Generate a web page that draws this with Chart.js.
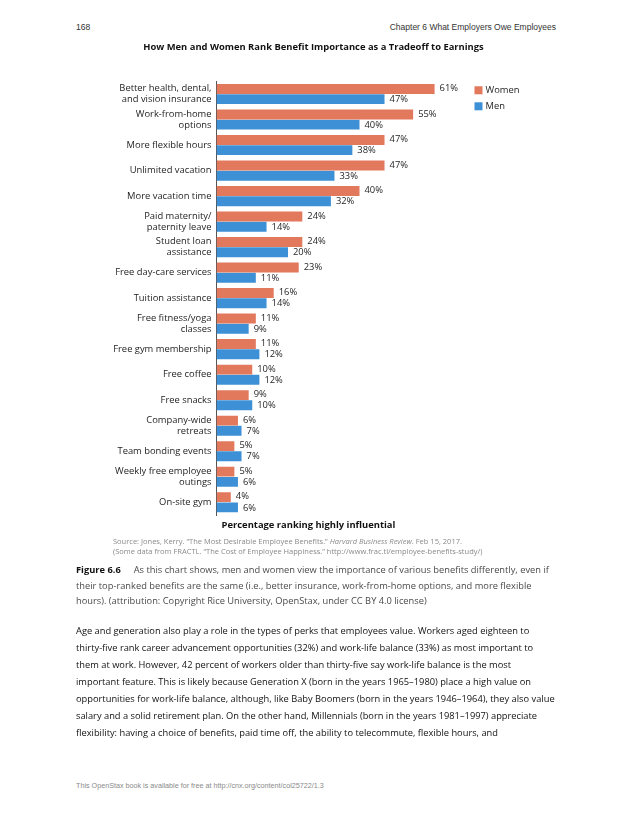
<!DOCTYPE html>
<html>
<head>
<meta charset="utf-8">
<script src="https://cdn.jsdelivr.net/npm/chart.js@4.4.1/dist/chart.umd.min.js"></script>
<style>
  html,body{margin:0;padding:0;background:#fff;}
  body{width:630px;height:815px;position:relative;overflow:hidden;font-family:"Open Sans",sans-serif;}
  .ln{position:absolute;white-space:nowrap;line-height:16px;}
  .hdr{font-family:"Liberation Sans",Arial,sans-serif;font-size:8.5px;color:#333;}
  .src{font-size:7.5px;color:#8a8a8a;left:113px;}
  .cap{font-size:9.3px;color:#4a4a4a;left:76px;}
  .body{font-size:9.3px;color:#111;left:76px;}
  .foot{font-family:"Liberation Sans",Arial,sans-serif;font-size:7.2px;color:#8a8a8a;left:76px;}
  #wrap{position:absolute;left:52.5px;top:31px;width:545px;height:504px;}
</style>
</head>
<body>
<div class="ln hdr" style="left:76px;top:19px;">168</div>
<div class="ln hdr" style="right:74px;top:19px;">Chapter 6 What Employers Owe Employees</div>

<div id="wrap"><canvas id="c"></canvas></div>

<div class="ln src" style="top:533px;">Source: Jones, Kerry. “The Most Desirable Employee Benefits.” <i>Harvard Business Review</i>. Feb 15, 2017.</div>
<div class="ln src" style="top:543px;">(Some data from FRACTL. “The Cost of Employee Happiness.” http://www.frac.tl/employee-benefits-study/)</div>

<div class="ln cap" style="top:562px;"><b style="color:#111;">Figure 6.6</b><span style="display:inline-block;width:13px;"></span>As this chart shows, men and women view the importance of various benefits differently, even if</div>
<div class="ln cap" style="top:578px;">their top-ranked benefits are the same (i.e., better insurance, work-from-home options, and more flexible</div>
<div class="ln cap" style="top:593px;">hours). (attribution: Copyright Rice University, OpenStax, under CC BY 4.0 license)</div>

<div class="ln body" style="top:623px;">Age and generation also play a role in the types of perks that employees value. Workers aged eighteen to</div>
<div class="ln body" style="top:640px;">thirty-five rank career advancement opportunities (32%) and work-life balance (33%) as most important to</div>
<div class="ln body" style="top:657px;">them at work. However, 42 percent of workers older than thirty-five say work-life balance is the most</div>
<div class="ln body" style="top:674px;">important feature. This is likely because Generation X (born in the years 1965–1980) place a high value on</div>
<div class="ln body" style="top:691px;">opportunities for work-life balance, although, like Baby Boomers (born in the years 1946–1964), they also value</div>
<div class="ln body" style="top:708px;">salary and a solid retirement plan. On the other hand, Millennials (born in the years 1981–1997) appreciate</div>
<div class="ln body" style="top:725px;">flexibility: having a choice of benefits, paid time off, the ability to telecommute, flexible hours, and</div>

<div class="ln foot" style="top:778px;">This OpenStax book is available for free at http://cnx.org/content/col25722/1.3</div>

<script>
const categories = [
  ["Better health, dental,", "and vision insurance"],
  ["Work-from-home", "options"],
  "More flexible hours",
  "Unlimited vacation",
  "More vacation time",
  ["Paid maternity/", "paternity leave"],
  ["Student loan", "assistance"],
  "Free day-care services",
  "Tuition assistance",
  ["Free fitness/yoga", "classes"],
  "Free gym membership",
  "Free coffee",
  "Free snacks",
  ["Company-wide", "retreats"],
  "Team bonding events",
  ["Weekly free employee", "outings"],
  "On-site gym"
];
const womenValues = [61, 55, 47, 47, 40, 24, 24, 23, 16, 11, 11, 10, 9, 6, 5, 5, 4];
const menValues   = [47, 40, 38, 33, 32, 14, 20, 11, 14, 9, 12, 12, 10, 7, 7, 6, 6];
const seriesNames = ["Women", "Men"];
const chartTitle = "How Men and Women Rank Benefit Importance as a Tradeoff to Earnings";
const axisTitle = "Percentage ranking highly influential";

const WOMEN_COLOR = "#E2785C";
const MEN_COLOR = "#3E90D6";
const FS = 9.4;

Chart.defaults.font.family = '"Open Sans", sans-serif';
Chart.defaults.color = "#1e1e1e";

const valueLabels = {
  id: "valueLabels",
  afterDatasetsDraw(chart) {
    const ctx = chart.ctx;
    ctx.save();
    ctx.font = FS + 'px "Open Sans", sans-serif';
    ctx.fillStyle = "#262626";
    ctx.textAlign = "left";
    ctx.textBaseline = "middle";
    chart.data.datasets.forEach((ds, di) => {
      const meta = chart.getDatasetMeta(di);
      meta.data.forEach((bar, i) => {
        ctx.fillText(ds.data[i] + "%", bar.x + 5, bar.y + (di === 0 ? -0.5 : 0.5));
      });
    });
    ctx.restore();
  }
};

const sideLegend = {
  id: "sideLegend",
  afterDraw(chart) {
    const ctx = chart.ctx;
    const a = chart.chartArea;
    ctx.save();
    ctx.font = FS + 'px "Open Sans", sans-serif';
    ctx.textBaseline = "middle";
    ctx.textAlign = "left";
    chart.data.datasets.forEach((ds, i) => {
      const x = a.left + 258;
      const y = a.top + 9 + i * 16;
      ctx.fillStyle = ds.backgroundColor;
      ctx.fillRect(x, y - 4, 8, 8);
      ctx.fillStyle = "#1e1e1e";
      ctx.fillText(ds.label, x + 11, y);
    });
    ctx.restore();
  }
};

const bottomAxisTitle = {
  id: "bottomAxisTitle",
  afterDraw(chart) {
    const ctx = chart.ctx;
    ctx.save();
    ctx.font = 'bold ' + FS + 'px "Open Sans", sans-serif';
    ctx.fillStyle = "#111";
    ctx.textAlign = "center";
    ctx.textBaseline = "middle";
    ctx.fillText(axisTitle, chart.width / 2 - 17, chart.chartArea.bottom + 10.5);
    ctx.restore();
  }
};

new Chart(document.getElementById("c"), {
  type: "bar",
  data: {
    labels: categories,
    datasets: [
      { label: seriesNames[0], data: womenValues, backgroundColor: WOMEN_COLOR, borderWidth: 0,
        categoryPercentage: 0.8, barPercentage: 0.97 },
      { label: seriesNames[1], data: menValues, backgroundColor: MEN_COLOR, borderWidth: 0,
        categoryPercentage: 0.8, barPercentage: 0.97 }
    ]
  },
  options: {
    indexAxis: "y",
    responsive: true,
    maintainAspectRatio: false,
    animation: false,
    layout: { padding: { left: 0, right: 24, top: 0, bottom: 20 } },
    plugins: {
      legend: { display: false },
      tooltip: { enabled: false },
      title: {
        display: true, text: chartTitle, color: "#111",
        font: { size: FS, weight: "bold" }, padding: { top: 11, bottom: 28 }
      }
    },
    scales: {
      x: { display: false, min: 0, max: 100 },
      y: {
        afterFit(scale) { scale.width = 163.5; },
        grid: { display: false, drawTicks: false },
        border: { display: true, color: "#555", width: 1 },
        ticks: { color: "#1e1e1e", padding: 5, font: { size: FS, lineHeight: 1.15 }, autoSkip: false }
      }
    }
  },
  plugins: [valueLabels, sideLegend, bottomAxisTitle]
});
</script>
</body>
</html>
